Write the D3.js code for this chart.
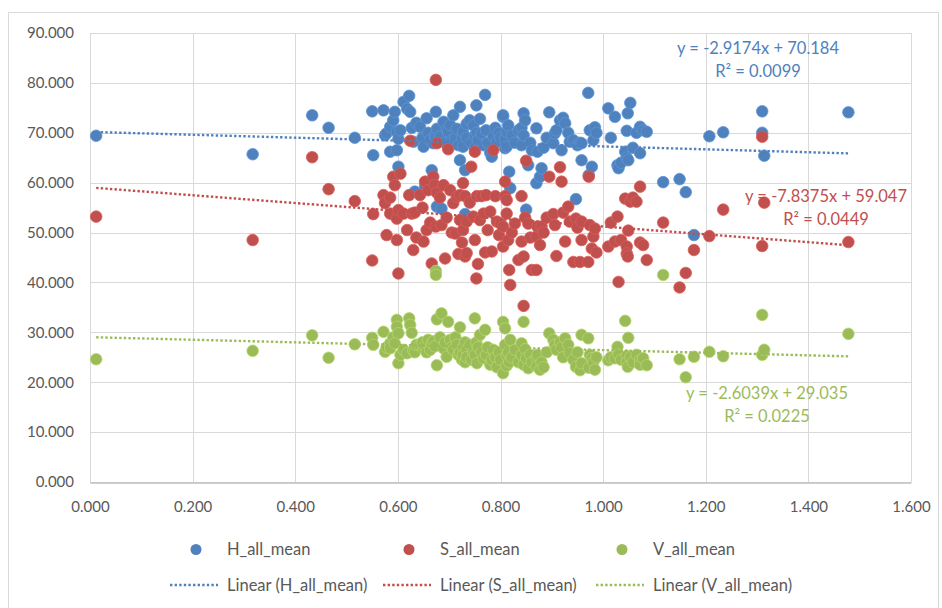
<!DOCTYPE html>
<html>
<head>
<meta charset="utf-8">
<script src="https://cdn.jsdelivr.net/npm/d3@7"></script>
<style>
  body { margin: 0; background: #fff; }
  svg text { font-family: Lato, "Open Sans", sans-serif; }
</style>
</head>
<body>
<svg id="chart"></svg>
<script>
// x value shared by all three series (Excel scatter, one x column)
const xValues = [
  0.012,0.317,0.433,0.465,0.516,0.550,0.552,0.572,0.575,0.578,
  0.585,0.585,0.591,0.594,0.598,0.598,0.601,0.601,0.605,0.611,
  0.618,0.622,0.624,0.627,0.630,0.633,0.636,0.643,0.648,0.650,
  0.653,0.656,0.659,0.663,0.666,0.669,0.672,0.674,0.674,0.676,
  0.676,0.682,0.685,0.689,0.692,0.695,0.698,0.702,0.705,0.708,
  0.712,0.715,0.718,0.721,0.721,0.725,0.727,0.727,0.731,0.731,
  0.734,0.734,0.740,0.743,0.747,0.750,0.750,0.753,0.754,0.756,
  0.760,0.763,0.767,0.770,0.772,0.775,0.780,0.783,0.786,0.790,
  0.793,0.797,0.800,0.805,0.805,0.809,0.809,0.812,0.812,0.815,
  0.817,0.819,0.822,0.828,0.835,0.841,0.841,0.845,0.845,0.848,
  0.850,0.854,0.858,0.861,0.870,0.870,0.872,0.877,0.880,0.884,
  0.890,0.895,0.903,0.906,0.909,0.916,0.919,0.922,0.926,0.932,
  0.935,0.942,0.947,0.950,0.955,0.958,0.958,0.971,0.972,0.974,
  0.978,0.981,0.984,0.987,1.010,1.015,1.023,1.028,1.030,1.035,
  1.043,1.046,1.046,1.048,1.049,1.053,1.058,1.065,1.072,1.072,
  1.078,1.085,1.117,1.149,1.161,1.177,1.207,1.234,1.310,1.310,
  1.314,1.478
];

const hValues = [
  69.4,65.7,73.5,71.0,69.0,74.3,65.5,74.5,69.5,69.9,
  71.2,66.2,72.5,74.2,70.2,66.5,63.2,68.8,70.5,76.2,
  74.8,77.4,74.2,71.0,68.2,58.2,72.0,71.2,69.0,67.2,
  59.2,72.9,70.0,68.5,62.5,67.9,69.5,74.2,69.2,55.2,
  70.8,69.2,54.8,72.2,68.0,70.5,70.2,71.5,68.5,73.5,
  69.0,70.8,67.5,75.2,64.5,68.8,70.2,67.2,62.5,53.7,
  71.8,69.0,72.5,68.0,71.5,69.5,67.0,75.5,70.0,68.5,
  72.8,69.9,67.5,77.6,70.5,68.0,66.0,65.2,69.2,71.0,
  68.2,70.0,69.0,73.2,73.5,66.9,68.8,70.2,67.2,71.5,
  62.2,58.9,69.5,68.0,70.5,67.5,71.0,73.9,69.5,72.5,
  54.6,63.5,68.0,66.5,70.9,59.9,66.2,61.2,62.9,67.0,
  69.0,74.1,67.9,69.9,70.5,72.5,66.5,73.0,71.9,70.0,
  68.2,68.5,56.7,67.5,68.0,64.5,67.9,78.0,61.5,70.5,
  63.2,68.5,71.1,70.0,74.9,69.0,73.2,63.5,62.9,64.0,
  66.2,70.4,65.0,73.9,64.5,76.0,67.0,70.0,71.2,65.9,
  70.5,70.2,60.1,60.7,58.1,49.5,69.3,70.1,74.3,70.0,
  65.4,74.1
];

const sValues = [
  53.2,48.5,65.1,58.7,56.3,44.4,53.7,57.5,55.9,49.5,
  53.8,57.0,61.2,59.5,52.8,48.5,41.8,54.5,61.8,53.8,
  50.5,57.5,68.4,53.8,46.5,54.0,49.0,57.5,55.0,48.2,
  60.2,50.5,58.5,52.0,43.8,61.2,59.5,80.6,51.2,67.9,
  58.0,57.0,51.5,59.5,44.8,53.0,66.7,58.5,50.0,55.9,
  49.8,57.2,45.7,57.5,52.5,48.0,59.9,50.5,57.3,45.2,
  52.2,45.9,56.0,63.2,53.2,66.2,48.5,40.8,57.3,43.7,
  52.5,57.3,53.8,46.0,57.5,50.5,54.2,46.2,66.5,57.3,
  52.2,49.5,51.8,51.2,47.2,60.2,57.3,56.5,53.8,48.5,
  42.5,39.5,50.0,51.8,44.5,57.3,48.2,45.2,35.3,53.0,
  64.4,51.8,49.0,42.5,42.5,49.2,51.2,47.5,51.2,50.0,
  53.0,61.2,53.7,51.5,45.3,63.1,60.2,54.0,48.2,55.2,
  52.2,44.1,52.8,51.0,44.1,52.2,48.5,44.1,61.2,51.5,
  46.8,49.2,50.8,46.0,47.2,52.0,48.2,53.2,40.1,48.5,
  56.8,47.2,45.8,45.2,50.4,56.2,57.0,56.2,59.2,48.0,
  47.5,44.5,52.0,39.0,41.9,46.5,49.3,54.6,69.2,47.3,
  56.0,48.1
];

const vValues = [
  24.6,26.3,29.4,24.9,27.6,28.9,27.5,30.1,26.1,27.0,
  27.8,26.8,29.0,27.8,32.5,31.1,29.8,23.8,25.5,26.5,
  25.8,32.8,31.5,29.9,26.3,26.0,27.5,27.5,28.0,26.8,
  27.2,26.0,28.5,26.5,27.8,28.2,27.2,42.3,41.5,32.6,
  23.4,29.0,33.8,26.8,28.0,25.1,32.1,28.5,27.0,26.5,
  29.0,27.5,25.5,31.0,26.0,24.5,27.0,25.5,28.0,24.0,
  26.5,25.0,27.5,24.5,26.0,32.8,25.5,28.0,23.8,27.0,
  29.5,26.0,24.8,30.5,25.5,27.0,23.5,24.5,26.5,25.0,
  23.0,26.0,24.5,21.8,32.1,30.8,27.5,25.4,23.3,26.0,
  24.0,28.5,25.0,26.5,24.0,27.8,25.5,32.1,23.5,26.6,
  24.8,22.8,25.5,24.0,24.8,23.2,25.5,22.5,24.0,23.0,
  26.0,29.8,28.5,27.5,26.5,28.0,27.0,25.0,28.8,27.5,
  25.8,24.5,23.1,26.0,22.4,29.5,23.8,28.8,22.9,25.5,
  24.8,24.0,22.5,25.0,24.4,25.0,24.8,27.1,25.5,24.5,
  32.3,25.3,24.0,23.1,28.9,25.0,24.0,25.5,24.4,23.5,
  24.8,23.4,41.5,24.6,21.0,25.1,26.1,25.2,33.5,25.5,
  26.5,29.7
];

const seriesNames = ["H_all_mean", "S_all_mean", "V_all_mean"];
const seriesColors = ["#4F81BD", "#C0504D", "#9BBB59"];
// trendline coefficients, as printed on the chart
const slopes = [-2.9174, -7.8375, -2.6039];
const intercepts = [70.184, 59.047, 29.035];
const rSquared = ["0.0099", "0.0449", "0.0225"];

const xTickValues = [0, 0.2, 0.4, 0.6, 0.8, 1.0, 1.2, 1.4, 1.6];
const yTickValues = [0, 10, 20, 30, 40, 50, 60, 70, 80, 90];

const width = 942;
const height = 608;
const margin = { left: 90, right: 31, top: 33, bottom: 126 };

const svg = d3.select("#chart")
    .attr("width", width)
    .attr("height", height);

// chart area border
svg.append("rect")
    .attr("x", 8.5)
    .attr("y", 12.5)
    .attr("width", 930)
    .attr("height", 620)
    .attr("fill", "#fff")
    .attr("stroke", "#d9d9d9");

const x = d3.scaleLinear()
    .domain([0, 1.6])
    .range([margin.left, width - margin.right]);

const y = d3.scaleLinear()
    .domain([0, 90])
    .range([height - margin.bottom, margin.top]);

// gridlines
svg.append("g")
    .selectAll("line")
    .data(yTickValues)
    .enter().append("line")
    .attr("x1", x(0))
    .attr("x2", x(1.6))
    .attr("y1", d => Math.round(y(d)) + 0.5)
    .attr("y2", d => Math.round(y(d)) + 0.5)
    .attr("stroke", "#d9d9d9")
    .attr("stroke-width", 1);

svg.append("g")
    .selectAll("line")
    .data(xTickValues)
    .enter().append("line")
    .attr("x1", d => Math.round(x(d)) + 0.5)
    .attr("x2", d => Math.round(x(d)) + 0.5)
    .attr("y1", y(90))
    .attr("y2", y(0))
    .attr("stroke", "#d9d9d9")
    .attr("stroke-width", 1);

// axes (labels only, Excel style)
const xAxis = svg.append("g")
    .attr("transform", `translate(0, ${Math.round(y(0)) + 0.5})`)
    .call(d3.axisBottom(x).tickValues(xTickValues).tickFormat(d3.format(".3f")).tickSize(0).tickPadding(19));
xAxis.select(".domain").attr("stroke", "#bfbfbf").attr("stroke-width", 1.3);
xAxis.selectAll("text").attr("fill", "#595959").style("font-size", "15px");

const yAxis = svg.append("g")
    .attr("transform", `translate(${x(0)}, 0)`)
    .call(d3.axisLeft(y).tickValues(yTickValues).tickFormat(d3.format(".3f")).tickSize(0).tickPadding(16));
yAxis.select(".domain").remove();
yAxis.selectAll("text").attr("fill", "#595959").style("font-size", "15px");

// scatter points, drawn H then S then V
const allSeries = [hValues, sValues, vValues];
allSeries.forEach((values, i) => {
    svg.append("g")
        .selectAll("circle")
        .data(values)
        .enter().append("circle")
        .attr("cx", (d, j) => x(xValues[j]))
        .attr("cy", d => y(d))
        .attr("r", 5.8)
        .attr("fill", seriesColors[i])
        .attr("stroke", d3.color(seriesColors[i]).brighter(0.4))
        .attr("stroke-width", 0.8);
});

// linear trendlines across the data range
const xMin = d3.min(xValues);
const xMax = d3.max(xValues);
slopes.forEach((m, i) => {
    svg.append("line")
        .attr("x1", x(xMin))
        .attr("y1", y(m * xMin + intercepts[i]))
        .attr("x2", x(xMax))
        .attr("y2", y(m * xMax + intercepts[i]))
        .attr("stroke", seriesColors[i])
        .attr("stroke-width", 2.4)
        .attr("stroke-dasharray", "2.4 2.2");
});

// trendline equation labels
const labelPos = [[758, 48], [826, 196], [767, 393]];
slopes.forEach((m, i) => {
    const g = svg.append("g")
        .attr("transform", `translate(${labelPos[i][0]}, ${labelPos[i][1]})`)
        .attr("fill", seriesColors[i])
        .attr("text-anchor", "middle")
        .style("font-size", "16.5px");
    g.append("text")
        .attr("dy", "0.35em")
        .text(`y = ${m}x + ${intercepts[i].toFixed(3)}`);
    g.append("text")
        .attr("y", 23.5)
        .attr("dy", "0.35em")
        .text(`R² = ${rSquared[i]}`);
});

// legend
const legendX = [196, 409, 622];
const legend = svg.append("g").style("font-size", "16.5px").attr("fill", "#595959");
seriesNames.forEach((name, i) => {
    legend.append("circle")
        .attr("cx", legendX[i])
        .attr("cy", 549.5)
        .attr("r", 5.5)
        .attr("fill", seriesColors[i]);
    legend.append("text")
        .attr("x", legendX[i] + 31)
        .attr("y", 549.5)
        .attr("dy", "0.35em")
        .text(name);
    legend.append("line")
        .attr("x1", legendX[i] - 26)
        .attr("x2", legendX[i] + 22)
        .attr("y1", 585)
        .attr("y2", 585)
        .attr("stroke", seriesColors[i])
        .attr("stroke-width", 2.4)
        .attr("stroke-dasharray", "2.4 2.2");
    legend.append("text")
        .attr("x", legendX[i] + 31)
        .attr("y", 585)
        .attr("dy", "0.35em")
        .text(`Linear (${name})`);
});
</script>
</body>
</html>
